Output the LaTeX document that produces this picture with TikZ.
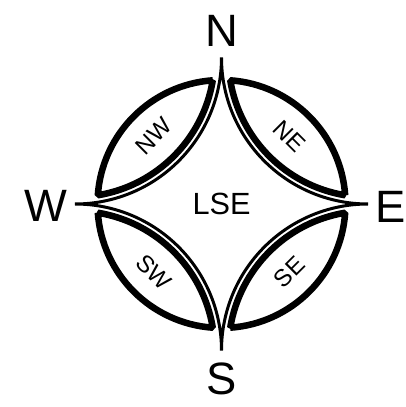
\documentclass[tikz,border=0pt]{standalone}
\usepackage{fontspec}
\setmainfont{Liberation Sans}

\begin{document}
\begin{tikzpicture}[x=0.75pt,y=0.75pt,line join=bevel]
  \useasboundingbox (-221.5,-203) rectangle (184.5,204);
  % the four lenses between the rim and the star
  \foreach \r in {0,90,180,270} {
    \draw[line width=4.9pt,rotate=\r] (4.04:124) arc[start angle=4.04,end angle=85.96,radius=124]
      arc[start angle=189.4,end angle=260.6,radius=139.65] -- cycle;
  }
  % star with its spikes
  \draw[line width=2.25pt] (0,146.5) arc[start angle=180,end angle=270,radius=146.5]
    arc[start angle=90,end angle=180,radius=146.5]
    arc[start angle=0,end angle=90,radius=146.5]
    arc[start angle=-90,end angle=0,radius=146.5] -- cycle;
  \node (lse) at (0,0) {\fontsize{23}{23}\selectfont LSE};
  \foreach \n/\pos in {N/{0,173.5}, E/{169.5,-3}, S/{0,-174.5}, W/{-175.5,-2}}
    \node (\n) at (\pos) {\fontsize{34}{34}\selectfont \n};
  \foreach \n/\a/\rot in {NE/45/-45, NW/135/45, SW/225/-45, SE/315/45}
    \node[rotate=\rot,inner sep=0pt] (\n) at (\a:96) {\fontsize{18}{18}\selectfont \n};
\end{tikzpicture}
\end{document}
